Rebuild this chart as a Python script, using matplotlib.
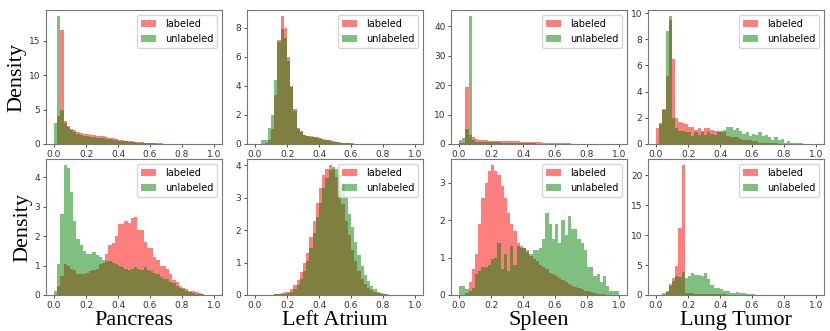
import numpy as np
import matplotlib.pyplot as plt

# histogram bins shared by every panel (50 bins on [0, 1])
edges = np.linspace(0, 1, 51)

organs = ['Pancreas', 'Left Atrium', 'Spleen', 'Lung Tumor']


def pad(vals):
    # fill the remaining bins (beyond the last read value) with zeros
    return np.array(list(vals) + [0.0] * (50 - len(vals)))


# ---- top row: densities ----
pancreas_top_lab = pad([0, 4.0, 16.5, 3.4, 2.6, 2.2, 2.0, 1.8, 1.6, 1.5, 1.4, 1.3, 1.25, 1.2, 1.15,
                        1.1, 1.0, 0.9, 0.8, 0.7, 0.6, 0.55, 0.5, 0.45, 0.4, 0.35, 0.3, 0.25, 0.2,
                        0.17, 0.14, 0.12, 0.1, 0.08, 0.06, 0.05, 0.04, 0.03])
pancreas_top_unl = pad([3.0, 18.5, 4.9, 3.0, 2.5, 2.0, 1.7, 1.5, 1.3, 1.2, 1.1, 1.0, 0.95, 0.9, 0.85,
                        0.8, 0.75, 0.7, 0.6, 0.55, 0.5, 0.45, 0.4, 0.35, 0.3, 0.25, 0.2, 0.17,
                        0.14, 0.12, 0.1, 0.08, 0.06, 0.05, 0.04, 0.03, 0.02, 0.01])

atrium_top_lab = pad([0, 0, 0, 0.1, 0.3, 1.0, 3.4, 7.2, 8.8, 8.0, 6.0, 4.0, 2.4, 1.1, 0.9, 0.6,
                      0.55, 0.55, 0.5, 0.45, 0.4, 0.35, 0.3, 0.25, 0.2, 0.15, 0.12, 0.1, 0.08,
                      0.06, 0.04, 0.02, 0.01, 0.01])
atrium_top_unl = pad([0, 0, 0.3, 0.3, 1.1, 2.0, 4.4, 7.0, 7.9, 7.3, 5.7, 3.9, 2.3, 1.05, 0.85,
                      0.6, 0.55, 0.5, 0.45, 0.4, 0.35, 0.3, 0.25, 0.2, 0.15, 0.12, 0.1, 0.08,
                      0.06, 0.04, 0.02, 0.01])

spleen_top_lab = pad([0.3, 0.5, 19.5, 3.0, 2.5, 1.8, 1.5, 1.3, 1.2, 1.1, 1.05, 1.0, 1.0, 0.95,
                      0.95, 0.9, 0.9, 0.85, 0.85, 0.8, 0.8, 0.75, 0.7, 0.65, 0.6, 0.55, 0.5,
                      0.45, 0.4, 0.35, 0.3, 0.25, 0.22, 0.2, 0.18, 0.15, 0.12, 0.1, 0.08, 0.07,
                      0.06, 0.05, 0.04, 0.03, 0.02, 0.01])
spleen_top_unl = pad([1.3, 2.0, 5.0, 43.3, 1.5, 0.8, 0.7, 0.6, 0.6, 0.6, 0.8, 0.6, 0.55, 0.5, 0.5,
                      0.45, 0.4, 0.4, 0.35, 0.3, 0.3, 0.25, 0.2, 0.2, 0.15, 0.12, 0.1, 0.08,
                      0.06, 0.05, 0.04, 0.03, 0.02, 0.02, 0.01, 0.01, 0.01, 0.01, 0.01, 0.01,
                      0.01, 0.01, 0.01, 0.01, 0.01])

lung_top_lab = pad([1.2, 1.6, 2.7, 5.2, 9.5, 6.5, 2.0, 1.7, 1.6, 1.5, 1.3, 1.3, 1.1, 1.2, 1.0,
                    1.2, 1.2, 1.1, 1.0, 1.0, 0.9, 0.9, 0.6, 0.5, 0.5, 0.5, 0.4, 0.3, 0.3, 0.3,
                    0.2, 0.2, 0.1, 0.1, 0.1, 0.05, 0.05, 0.05])
lung_top_unl = pad([0, 1.5, 2.6, 8.6, 9.75, 2.0, 1.2, 1.0, 1.0, 0.9, 0.9, 0.6, 0.9, 0.7, 0.9,
                    0.7, 0.9, 0.8, 0.7, 0.9, 1.0, 1.1, 1.3, 1.3, 1.1, 1.2, 1.0, 0.8, 0.9, 0.6,
                    0.8, 0.7, 0.9, 0.6, 0.7, 0.5, 0.3, 0.5, 0.3, 0.4, 0.1, 0.2, 0.1, 0.05,
                    0.1, 0.05])

# ---- bottom row ----
pancreas_bot_lab = pad([0, 0.3, 0.63, 1.05, 1.0, 0.9, 0.85, 0.7, 0.7, 0.7, 0.75, 0.8, 0.85, 0.9,
                        1.05, 1.1, 1.4, 1.7, 1.75, 2.0, 2.4, 2.4, 2.5, 2.45, 2.6, 2.65, 2.2,
                        2.2, 1.8, 1.6, 1.6, 1.3, 1.2, 1.0, 1.0, 0.9, 0.7, 0.5, 0.45, 0.3, 0.25,
                        0.2, 0.15, 0.12, 0.1, 0.06, 0.03, 0.01])
pancreas_bot_unl = pad([0.15, 1.05, 2.75, 4.4, 4.3, 3.5, 2.5, 1.9, 1.7, 1.5, 1.4, 1.4, 1.45,
                        1.35, 1.3, 1.2, 1.15, 1.15, 1.1, 1.05, 1.0, 0.95, 0.9, 0.85, 0.9, 0.95,
                        0.9, 0.85, 0.95, 0.85, 0.8, 0.75, 0.7, 0.6, 0.55, 0.55, 0.45, 0.4, 0.3,
                        0.25, 0.2, 0.15, 0.1, 0.08, 0.05, 0.03, 0.02, 0.01])

atrium_bot_lab = pad([0, 0, 0, 0, 0.01, 0.01, 0.02, 0.03, 0.05, 0.08, 0.1, 0.2, 0.3, 0.45, 0.7,
                      1.0, 1.3, 1.8, 2.3, 2.85, 3.3, 3.7, 3.9, 4.0, 3.9, 3.65, 3.2, 2.8, 2.3,
                      1.85, 1.4, 1.05, 0.75, 0.5, 0.35, 0.22, 0.14, 0.08, 0.05, 0.03, 0.02,
                      0.01])
atrium_bot_unl = pad([0, 0, 0, 0, 0.01, 0.01, 0.02, 0.02, 0.03, 0.04, 0.06, 0.1, 0.18, 0.3,
                      0.48, 0.75, 1.05, 1.45, 1.9, 2.4, 2.85, 3.3, 3.6, 3.85, 3.95, 3.9, 3.7,
                      3.4, 3.0, 2.5, 2.1, 1.65, 1.25, 0.9, 0.62, 0.42, 0.28, 0.17, 0.1, 0.06,
                      0.04, 0.02, 0.01])

spleen_bot_lab = pad([0, 0, 0.05, 0.35, 0.7, 1.1, 1.9, 2.6, 3.0, 3.3, 3.46, 3.3, 3.2, 2.9, 2.6,
                      2.2, 1.9, 1.7, 1.4, 1.3, 1.25, 1.15, 1.05, 0.95, 0.9, 0.8, 0.75, 0.7,
                      0.6, 0.55, 0.5, 0.45, 0.4, 0.35, 0.3, 0.25, 0.22, 0.18, 0.15, 0.12, 0.1,
                      0.08, 0.05, 0.04, 0.03, 0.02, 0.01])
spleen_bot_unl = np.array([0.25, 0.25, 0.15, 0.1, 0.2, 0.55, 0.65, 0.75, 0.75, 0.8, 0.95, 1.0,
                           1.4, 0.7, 1.1, 0.65, 1.3, 0.8, 1.3, 1.25, 1.25, 1.2, 1.1, 1.2, 1.2,
                           1.25, 1.5, 2.2, 1.9, 1.5, 1.9, 1.4, 2.0, 1.6, 2.1, 1.75, 1.75, 1.5,
                           1.4, 1.2, 0.75, 0.75, 0.5, 0.55, 0.35, 0.5, 0.25, 0.1, 0.1, 0.1])

lung_bot_lab = pad([0, 0, 0, 0.5, 1.8, 2.8, 4.8, 11.1, 21.6, 0.4, 0.3, 0.3, 0.25, 0.25, 0.2,
                    0.2, 0.2, 0.15, 0.15, 0.1, 0.1, 0.1, 0.05, 0.05, 0.05, 0.05])
lung_bot_unl = pad([0, 0, 0.3, 0.7, 1.5, 2.4, 3.1, 3.0, 3.8, 2.9, 3.2, 3.6, 3.3, 3.4, 3.2, 3.6,
                    2.6, 1.7, 1.2, 1.2, 1.0, 0.6, 0.6, 0.4, 0.3, 0.5, 0.3, 0.4, 0.15, 0.1,
                    0.1, 0.05, 0.05, 0.05, 0.05, 0.05, 0.03, 0.03, 0.03, 0.02, 0.02])

labeled = [[pancreas_top_lab, atrium_top_lab, spleen_top_lab, lung_top_lab],
           [pancreas_bot_lab, atrium_bot_lab, spleen_bot_lab, lung_bot_lab]]
unlabeled = [[pancreas_top_unl, atrium_top_unl, spleen_top_unl, lung_top_unl],
             [pancreas_bot_unl, atrium_bot_unl, spleen_bot_unl, lung_bot_unl]]

W, H = 830, 331
fig = plt.figure(figsize=(W / 100, H / 100), dpi=100)

lefts = [46, 247, 451, 648]
tops = [10, 159]
bottoms = [144, 295]
width = 176

for r in range(2):
    for c in range(4):
        ax = fig.add_axes([lefts[c] / W, 1 - bottoms[r] / H, width / W,
                           (bottoms[r] - tops[r]) / H])
        ax.bar(edges[:-1], labeled[r][c], width=np.diff(edges), align='edge',
               color='red', alpha=0.5, linewidth=0, label='labeled')
        ax.bar(edges[:-1], unlabeled[r][c], width=np.diff(edges), align='edge',
               color='green', alpha=0.5, linewidth=0, label='unlabeled')
        ax.set_xticks([0.0, 0.2, 0.4, 0.6, 0.8, 1.0])
        ax.tick_params(labelsize=6.5, length=2.5, width=0.6, pad=1.5, colors='#333333')
        for s in ax.spines.values():
            s.set_color('#777777')
            s.set_linewidth(0.8)
        ax.legend(loc='upper right', fontsize=7, handlelength=1.6, borderpad=0.4,
                  labelspacing=0.5, handletextpad=0.9)
        if c == 0:
            ax.set_ylabel('Density', family='Liberation Serif', fontsize=16, labelpad=2)
        if r == 1:
            ax.set_xlabel(organs[c], family='Liberation Serif', fontsize=16, labelpad=1)

plt.savefig('out.png', dpi=100)
